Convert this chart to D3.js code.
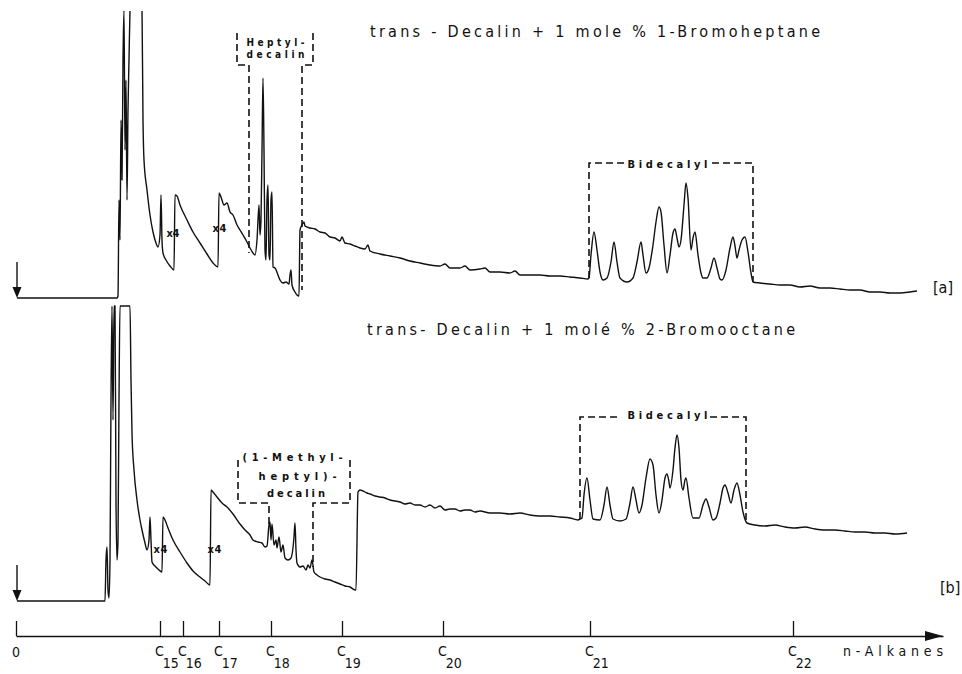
<!DOCTYPE html>
<html>
<head>
<meta charset="utf-8">
<script src="https://cdn.jsdelivr.net/npm/d3@7"></script>
<style>
    body { margin: 0; background: #fff; }
    svg { display: block; font-family: "DejaVu Sans Condensed", "DejaVu Sans", sans-serif; }
    .trace { fill: none; stroke: #111; stroke-width: 1.4; stroke-linejoin: round; }
    .bracket { fill: none; stroke: #111; stroke-width: 1.6; stroke-dasharray: 7 4; }
    .note { font-weight: bold; font-size: 11px; fill: #111; }
    .small { font-size: 10px; }
    .title { font-size: 16px; fill: #111; }
    .tickLabel { font-size: 14px; fill: #111; }
</style>
</head>
<body>
<script>
//self executing function to keep things local
(function(){

//chromatogram [a]: trans-decalin + 1-bromoheptane (retention units, detector units)
var timeA = [1, 101, 102, 103, 104, 105, 106, 107, 108, 109, 110, 111, 112, 113, 114, 117, 123, 126,
    127, 128, 131, 134, 137, 140, 142, 144, 145, 146, 147, 150, 154, 158,
    159, 161, 164, 171, 177, 184, 191, 197, 202,
    203, 205, 208, 211, 214, 217, 221, 224, 227, 231, 234, 237, 239, 241, 243, 244, 245, 246, 247, 248,
    249, 250, 251, 252, 253, 254, 255, 256, 257, 259, 262, 264, 267, 270, 273, 274, 275, 276, 279, 281, 283,
    284, 286, 288, 289, 294, 299, 304, 309, 314, 319, 324, 326, 329, 334, 339, 344, 349, 352, 354,
    364, 374, 384, 394, 404, 414, 424, 429, 434, 444, 449, 454, 464, 469, 474, 484, 494, 499,
    504, 514, 524, 534, 544, 554, 564, 572,
    573, 575, 578, 581, 584, 587, 591, 595, 598, 601, 604, 611, 617, 621, 625, 627, 630, 633, 637, 640,
    643, 645, 648, 651, 654, 657, 659, 661, 663, 665, 668, 670, 672, 675, 677, 679, 682, 685, 687, 691,
    695, 698, 701, 704, 706, 710, 714, 717, 719, 721, 723, 726, 729, 732, 735, 737,
    744, 754, 764, 774, 784, 794, 804, 814, 824, 834, 844, 854, 864, 874, 884, 894, 901];
var signalA = [0, 0, 2, 98, 58, 178, 118, 238, 288, 148, 218, 98, 188, 238, 288, 338, 338, 288,
    178, 138, 108, 83, 66, 55, 51, 63, 103, 58, 45, 38, 32, 28,
    103, 102, 93, 78, 66, 55, 44, 35, 31,
    105, 101, 93, 95, 86, 83, 73, 68, 63, 56, 50, 45, 43, 58, 93, 63, 78, 148, 220, 148,
    48, 38, 98, 113, 43, 38, 98, 106, 31, 30, 23, 18, 15, 16, 14, 23, 28, 13, 6, 3, 2,
    68, 73, 76, 72, 70, 69, 66, 65, 61, 60, 57, 61, 55, 54, 52, 50, 49, 53, 47,
    44, 42, 40, 37, 35, 33, 32, 34, 30, 30, 32, 28, 29, 30, 26, 26, 25, 27,
    23, 23, 23, 22, 22, 21, 20, 19,
    20, 43, 66, 48, 26, 18, 20, 36, 56, 36, 20, 16, 20, 36, 56, 43, 25, 30, 53, 76,
    91, 86, 53, 25, 43, 65, 69, 60, 51, 58, 93, 115, 100, 48, 60, 66, 43, 25, 20, 20,
    30, 40, 30, 19, 18, 28, 50, 61, 52, 40, 48, 58, 61, 46, 25, 16,
    15, 14, 13, 13, 11, 12, 10, 10, 9, 8, 8, 6, 6, 5, 5, 6, 7];

//chromatogram [b]: trans-decalin + 2-bromooctane
var timeB = [1, 89, 90, 91, 92, 93, 94, 95, 96, 97, 98, 99, 100, 101, 102, 103, 104, 114,
    115, 116, 118, 121, 124, 126, 129, 131, 133, 134, 135, 136, 139, 142, 146,
    147, 149, 152, 157, 164, 171, 177, 184, 189, 194,
    195, 197, 201, 206, 211, 217, 224, 229, 234, 237, 242, 246, 249, 251, 253, 254, 255, 256, 258,
    260, 261, 263, 265, 267, 269, 272, 275, 278, 279, 280, 281, 284, 287, 290, 292, 294, 296, 298,
    301, 304, 309, 314, 319, 324, 329, 334, 339, 340,
    342, 344, 347, 351, 354, 359, 364, 369, 374, 384, 389, 394, 399, 404, 409, 414, 419, 424, 429,
    434, 439, 444, 449, 454, 459, 464, 474, 484, 494, 504, 514, 524, 534, 544, 554, 562, 564,
    566, 568, 571, 574, 577, 584, 588, 591, 594, 597, 604, 610, 614, 617, 620, 623, 626, 630, 634,
    637, 640, 643, 646, 649, 651, 653, 654, 657, 659, 661, 663, 665, 667, 669, 670, 673, 677, 683,
    687, 690, 693, 697, 700, 704, 707, 709, 712, 715, 718, 721, 724, 727, 731,
    739, 749, 759, 769, 779, 789, 799, 809, 819, 829, 839, 849, 859, 869, 879, 891];
var signalB = [0, 0, 41, 54, 11, 3, 41, 201, 295, 181, 295, 295, 101, 41, 61, 201, 295, 295,
    221, 168, 131, 101, 81, 71, 58, 51, 61, 84, 61, 39, 35, 32, 29,
    84, 81, 73, 61, 49, 38, 30, 24, 20, 16,
    111, 109, 104, 98, 94, 87, 77, 71, 66, 61, 59, 58, 54, 55, 76, 79, 61, 77, 56,
    61, 53, 64, 49, 56, 43, 41, 43, 64, 78, 51, 38, 34, 35, 31, 36, 33, 41, 29,
    26, 24, 22, 21, 19, 17, 15, 14, 11, 11,
    109, 111, 110, 108, 107, 105, 104, 103, 101, 99, 97, 98, 96, 96, 94, 96, 93, 95, 91,
    92, 92, 90, 91, 91, 89, 90, 88, 88, 87, 88, 86, 85, 85, 84, 83, 81, 82,
    83, 106, 123, 101, 82, 81, 96, 114, 96, 82, 80, 82, 98, 114, 101, 88, 96, 123, 142,
    136, 106, 88, 101, 123, 127, 119, 113, 131, 153, 166, 153, 121, 111, 121, 123, 103, 83, 83,
    96, 102, 94, 81, 83, 98, 113, 116, 108, 98, 111, 118, 106, 89, 78,
    76, 75, 76, 74, 73, 74, 72, 71, 71, 70, 69, 69, 68, 68, 67, 68];

//n-alkane reference scale below the traces
var alkaneTimes = [0, 144, 167, 203, 255, 326, 427, 574, 777];
var alkaneNames = ["0", "15", "16", "17", "18", "19", "20", "21", "22"];

//chart frame dimensions
var width = 962,
    height = 674;

function setChart(){
    var svg = d3.select("body")
        .append("svg")
        .attr("width", width)
        .attr("height", height);

    //shared retention scale, one detector scale per trace
    var x = d3.scaleLinear()
        .domain([0, 927])
        .range([16, 943]);
    var yA = d3.scaleLinear()
        .domain([0, 300])
        .range([298, -2]);
    var yB = d3.scaleLinear()
        .domain([0, 300])
        .range([601, 301]);

    //clip the off-scale solvent peaks
    var defs = svg.append("defs");
    defs.append("clipPath").attr("id", "clipA")
        .append("rect").attr("x", 0).attr("y", 11).attr("width", width).attr("height", 300);
    defs.append("clipPath").attr("id", "clipB")
        .append("rect").attr("x", 0).attr("y", 300).attr("width", width).attr("height", 310);

    drawTrace(svg, timeA, signalA, x, yA, "clipA");
    drawTrace(svg, timeB, signalB, x, yB, "clipB");

    //start arrows
    startArrow(svg, x(1), yA(0));
    startArrow(svg, x(1), yB(0));

    //dashed fraction brackets
    //heptyl-decalin
    bracket(svg, [[221, 265], [221, 233], [233, 233], [233, 45]], x, yA);
    bracket(svg, [[297, 265], [297, 233], [286, 233], [286, 8]], x, yA);
    //(1-methyl-heptyl)-decalin
    bracket(svg, [[222, 141], [222, 98], [253, 98], [253, 74]], x, yB);
    bracket(svg, [[334, 141], [334, 98], [297, 98], [297, 34]], x, yB);
    //bidecalyl, both runs
    bracket(svg, [[573, 20], [573, 135], [609, 135]], x, yA);
    bracket(svg, [[696, 135], [737, 135], [737, 16]], x, yA);
    bracket(svg, [[564, 82], [564, 184], [604, 184]], x, yB);
    bracket(svg, [[694, 184], [730, 184], [730, 78]], x, yB);

    //annotations
    note(svg, "Heptyl-", x(259.5), yA(252), 58, true);
    note(svg, "decalin", x(259.5), yA(240), 58, true);
    note(svg, "(1-Methyl-", x(276.5), yB(140), 100);
    note(svg, "heptyl)-", x(281.5), yB(121), 78);
    note(svg, "decalin", x(280), yB(104), 58);
    note(svg, "Bidecalyl", x(651.5), yA(130), 80);
    note(svg, "Bidecalyl", x(651.5), yB(182), 80);

    //range switch marks
    note(svg, "x4", x(157), yA(61), 13);
    note(svg, "x4", x(203.5), yA(66), 14);
    note(svg, "x4", x(144.5), yB(48), 14);
    note(svg, "x4", x(198.5), yB(48), 14);

    //titles
    svg.append("text")
        .attr("class", "title")
        .attr("x", 370).attr("y", 37)
        .attr("textLength", 450).attr("lengthAdjust", "spacing")
        .text("trans - Decalin + 1 mole % 1-Bromoheptane");
    svg.append("text")
        .attr("class", "title")
        .attr("x", 367).attr("y", 335)
        .attr("textLength", 428).attr("lengthAdjust", "spacing")
        .text("trans- Decalin + 1 molé %  2-Bromooctane");
    svg.append("text").attr("class", "title").attr("x", 933).attr("y", 293).text("[a]");
    svg.append("text").attr("class", "title").attr("x", 940).attr("y", 593).text("[b]");

    setAxis(svg, x);
};

function drawTrace(svg, times, signals, x, y, clip){
    var line = d3.line()
        .x(function(d){ return x(d[0]); })
        .y(function(d){ return y(d[1]); })
        .curve(d3.curveMonotoneX);
    svg.append("path")
        .datum(d3.zip(times, signals))
        .attr("class", "trace")
        .attr("clip-path", "url(#" + clip + ")")
        .attr("d", line);
};

function startArrow(svg, px, py){
    svg.append("line")
        .attr("x1", px).attr("x2", px)
        .attr("y1", py - 36).attr("y2", py - 8)
        .attr("stroke", "#111").attr("stroke-width", 1.4);
    svg.append("path")
        .attr("d", "M" + (px - 4.5) + "," + (py - 11) + "L" + (px + 4.5) + "," + (py - 11) + "L" + px + "," + py + "Z")
        .attr("fill", "#111");
};

function bracket(svg, pts, x, y){
    var line = d3.line()
        .x(function(d){ return x(d[0]); })
        .y(function(d){ return y(d[1]); });
    svg.append("path")
        .attr("class", "bracket")
        .attr("d", line(pts));
};

function note(svg, txt, cx, by, len, small){
    svg.append("text")
        .attr("class", small ? "note small" : "note")
        .attr("x", cx - len / 2).attr("y", by)
        .attr("textLength", len).attr("lengthAdjust", "spacing")
        .text(txt);
};

function setAxis(svg, x){
    //ticks point up from the time line
    var axis = d3.axisTop(x)
        .tickValues(alkaneTimes)
        .tickSize(15)
        .tickSizeOuter(0)
        .tickFormat("");
    var g = svg.append("g")
        .attr("transform", "translate(0,636)")
        .call(axis);
    g.selectAll("path, line").attr("stroke", "#111").attr("stroke-width", 1.3);

    //arrow head
    svg.append("path")
        .attr("d", "M" + (x(927) - 18) + ",631L" + x(927) + ",636L" + (x(927) - 18) + ",641Z")
        .attr("fill", "#111");

    //labels: "0" then C with subscript
    alkaneTimes.forEach(function(t, i){
        var lab = svg.append("text")
            .attr("class", "tickLabel");
        if (i == 0){
            lab.attr("x", x(t)).attr("y", 657).attr("text-anchor", "middle").text(alkaneNames[i]);
        } else {
            lab.attr("x", x(t) - 5).attr("y", 656);
            lab.append("tspan").text("C");
            lab.append("tspan").attr("dy", 12).attr("dx", -1).text(alkaneNames[i]);
        };
    });

    svg.append("text")
        .attr("class", "tickLabel")
        .attr("x", 843).attr("y", 656)
        .attr("textLength", 100).attr("lengthAdjust", "spacing")
        .text("n-Alkanes");
};

window.onload = setChart();
})();
</script>
</body>
</html>
